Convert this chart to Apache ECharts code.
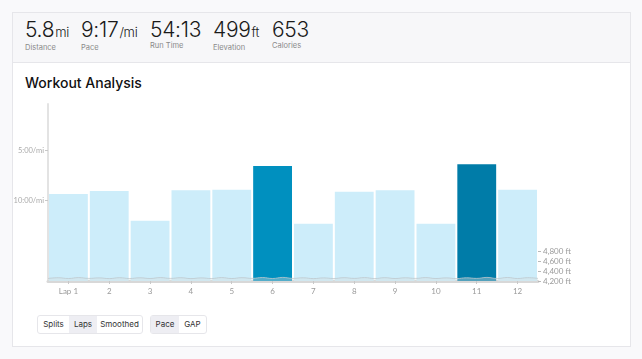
<!DOCTYPE html>
<html><head><meta charset="utf-8">
<script src="https://cdn.jsdelivr.net/npm/echarts@6/dist/echarts.min.js"></script>
<style>
html,body{margin:0;padding:0;width:642px;height:359px;background:#f9f9fb;overflow:hidden;font-family:Inter,"Noto Sans",sans-serif;}
#card{position:absolute;left:12px;top:12px;width:617px;height:333px;background:#fff;border:1px solid #e6e6ea;}
#hdr{position:absolute;left:0;top:0;width:617px;height:49px;background:#f7f7f9;border-bottom:1px solid #e6e6ea;}
.st{position:absolute;}
.st .v{font-size:21px;color:#1a1a1a;line-height:24px;letter-spacing:-0.3px;font-weight:300;}
.st .u{font-size:13px;margin-left:1px;}
.st .l{font-size:7.5px;color:#8a8a8a;margin-top:-1px;}
#title{position:absolute;left:12px;top:61px;font-size:14px;font-weight:500;color:#111;}
#chart{position:absolute;left:0;top:0;width:642px;height:359px;}
.grp{position:absolute;top:315px;height:17px;border:1px solid #e6e6ea;border-radius:3px;display:flex;background:#fff;z-index:5;}
.grp div{font-size:8px;color:#333;line-height:17px;text-align:center;}
.grp .sel{background:#eeeef3;}
</style></head><body>
<div id="card">
 <div id="hdr"></div>
 <div id="title">Workout Analysis</div>
</div>
<div id="stats"></div>
<div id="chart"></div>
<div class="grp" style="left:37px;width:104px;">
 <div style="width:31px;">Splits</div><div class="sel" style="width:28px;">Laps</div><div style="width:45px;">Smoothed</div>
</div>
<div class="grp" style="left:150px;width:55px;">
 <div class="sel" style="width:28px;">Pace</div><div style="width:27px;">GAP</div>
</div>
<script>
// Header stats
const statValues = ['5.8', '9:17', '54:13', '499', '653'];
const statUnits = ['mi', '/mi', '', 'ft', ''];
const statLabels = ['Distance', 'Pace', 'Run Time', 'Elevation', 'Calories'];
const statX = [25, 81, 150, 213, 272];

// Chart data
const lapLabels = ['Lap 1', '2', '3', '4', '5', '6', '7', '8', '9', '10', '11', '12'];
const lapPaceSec = [561, 543, 720, 539, 535, 394, 738, 547, 539, 738, 384, 535];
const highlightLaps = {5: '#0090bf', 10: '#007ca8'};
const paceTicks = [300, 600];
const elevTicks = [4200, 4400, 4600, 4800];
const elevX = [0,0.25,0.5,0.75,1,1.25,1.5,1.75,2,2.25,2.5,2.75,3,3.25,3.5,3.75,4,4.25,4.5,4.75,5,5.25,5.5,5.75,6,6.25,6.5,6.75,7,7.25,7.5,7.75,8,8.25,8.5,8.75,9,9.25,9.5,9.75,10,10.25,10.5,10.75,11,11.25,11.5,11.75,12];
const elevFt = [4250,4265,4250,4268,4252,4262,4248,4266,4250,4264,4250,4268,4252,4266,4248,4262,4250,4268,4250,4266,4252,4270,4250,4272,4252,4264,4248,4262,4250,4266,4252,4268,4250,4266,4250,4264,4252,4268,4250,4262,4248,4264,4252,4272,4250,4270,4250,4266,4252];

const PACE_MIN = 24, PACE_MAX = 1080;

const stats = document.getElementById('stats');
statValues.forEach((v, i) => {
  const d = document.createElement('div');
  d.className = 'st';
  d.style.left = statX[i] + 'px';
  d.style.top = '18px';
  d.innerHTML = '<div class="v">' + v + (statUnits[i] ? '<span class="u">' + statUnits[i] + '</span>' : '') + '</div><div class="l">' + statLabels[i] + '</div>';
  stats.appendChild(d);
});

function fmtPace(s) {
  const m = Math.floor(s / 60), r = Math.round(s % 60);
  return m + ':' + (r < 10 ? '0' : '') + r + '/mi';
}

const chart = echarts.init(document.getElementById('chart'), null, {renderer: 'canvas'});
chart.setOption({
  animation: false,
  grid: {left: 48, right: 104, top: 104, bottom: 78},
  xAxis: [{
    type: 'category', data: lapLabels,
    axisLine: {show: true, lineStyle: {color: '#d8d8d8', width: 3}},
    axisTick: {show: true, alignWithLabel: true, length: 3, lineStyle: {color: '#c8c8c8'}},
    axisLabel: {color: '#9a9a9a', fontSize: 8, fontFamily: 'Lato', margin: 6}
  }, {
    type: 'value', min: 0, max: 12, show: false
  }],
  yAxis: [{
    type: 'value', inverse: true, min: PACE_MIN, max: PACE_MAX,
    splitLine: {show: false},
    axisLine: {show: true, lineStyle: {color: '#e3e3e3', width: 2}},
    axisTick: {show: true, length: 3, customValues: paceTicks, lineStyle: {color: '#c8c8c8'}},
    axisLabel: {customValues: paceTicks, formatter: v => fmtPace(v), color: '#aaaaaa', fontSize: 7.5, fontFamily: 'Lato', margin: 4}
  }, {
    type: 'value', position: 'right', min: 4200, max: 7740,
    splitLine: {show: false},
    axisLine: {show: false},
    axisTick: {show: true, length: 3, customValues: elevTicks, lineStyle: {color: '#b8b8b8'}},
    axisLabel: {customValues: elevTicks, formatter: v => v.toLocaleString('en-US') + ' ft', color: '#9a9a9a', fontSize: 8, fontFamily: 'Lato', margin: 5}
  }],
  series: [{
    type: 'custom', xAxisIndex: 0, yAxisIndex: 0,
    data: lapPaceSec.map((v, i) => [i, v]),
    encode: {x: 0, y: 1},
    renderItem: function (params, api) {
      const i = api.value(0);
      const top = api.coord([i, api.value(1)]);
      const bot = api.coord([i, PACE_MAX]);
      const w = api.size([1, 0])[0] - 2;
      return {
        type: 'rect',
        shape: {x: top[0] - w / 2, y: top[1], width: w, height: bot[1] - top[1]},
        style: {fill: highlightLaps[i] || '#cdedfa'}
      };
    },
    z: 2
  }, {
    type: 'line', xAxisIndex: 1, yAxisIndex: 1,
    data: elevX.map((x, i) => [x, elevFt[i]]),
    smooth: true, symbol: 'none',
    lineStyle: {color: 'rgba(190,200,205,0.8)', width: 1},
    areaStyle: {color: 'rgba(215,220,222,0.55)'},
    z: 3
  }]
});
</script>
</body></html>
